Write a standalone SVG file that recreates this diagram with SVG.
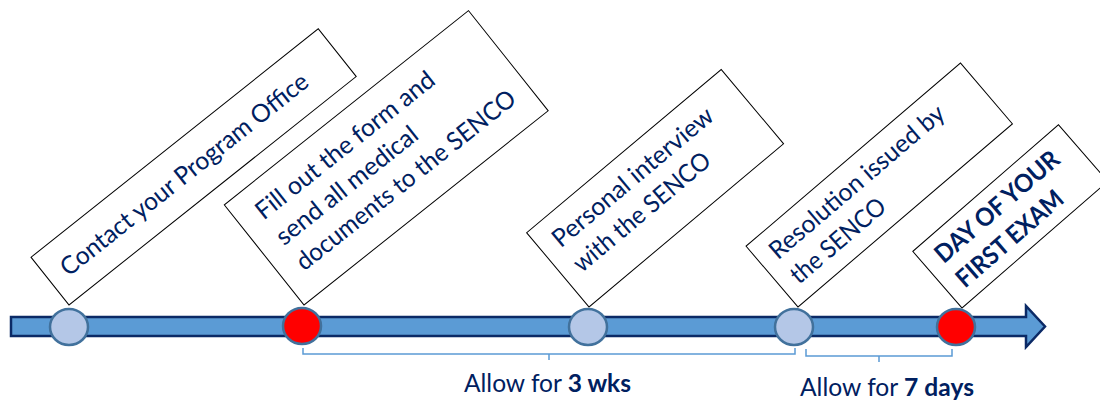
<svg xmlns="http://www.w3.org/2000/svg" width="1100" height="403" viewBox="0 0 1100 403">
<style>
.box{fill:#fff;stroke:#000;stroke-width:1}
.t{font-family:Lato,"Liberation Sans",sans-serif;font-size:25px;fill:#002060}
.b{font-weight:bold}
.dotl{fill:#b4c7e7;stroke:#41719c;stroke-width:2.5}
.dotr{fill:#ff0000;stroke:#41719c;stroke-width:2.5}
.br{fill:none;stroke:#5b9bd5;stroke-width:1.5}
</style>
<rect width="1100" height="403" fill="#fff"/>
<g id="timeline">
<path d="M11,317 H1026 V306 L1045,326.5 L1026,347 V336 H11 Z" fill="#5b9bd5" stroke="#0b2a66" stroke-width="2.5" stroke-linejoin="miter"/>
</g>
<g id="step1">
<g transform="translate(69,305) rotate(-38.5)">
<rect class="box" x="0" y="-61" width="367" height="61"/>
<text class="t" x="17" y="-22" textLength="309" lengthAdjust="spacingAndGlyphs">Contact your Program Office</text>
</g>
<ellipse class="dotl" cx="69" cy="327" rx="19" ry="18"/>
</g>
<g id="step2">
<g transform="translate(304,305) rotate(-38.5)">
<rect class="box" x="0" y="-128" width="312" height="128"/>
<text class="t" x="21" y="-91" textLength="221" lengthAdjust="spacingAndGlyphs">Fill out the form and</text>
<text class="t" x="21" y="-58.5" textLength="174" lengthAdjust="spacingAndGlyphs">send all medical</text>
<text class="t" x="21" y="-26" textLength="273" lengthAdjust="spacingAndGlyphs">documents to the SENCO</text>
</g>
<ellipse class="dotr" cx="302" cy="326" rx="19" ry="18"/>
</g>
<g id="step3">
<g transform="translate(589,307) rotate(-40)">
<rect class="box" x="0" y="-97" width="254" height="97"/>
<text class="t" x="16" y="-63" textLength="202" lengthAdjust="spacingAndGlyphs">Personal interview</text>
<text class="t" x="16" y="-30.5" textLength="171" lengthAdjust="spacingAndGlyphs">with the SENCO</text>
</g>
<ellipse class="dotl" cx="588" cy="327" rx="19" ry="18"/>
</g>
<g id="step4">
<g transform="translate(798,307) rotate(-40.5)">
<rect class="box" x="0" y="-80" width="282" height="80"/>
<text class="t" x="15" y="-48.5" textLength="222" lengthAdjust="spacingAndGlyphs">Resolution issued by</text>
<text class="t" x="15" y="-16" textLength="117" lengthAdjust="spacingAndGlyphs">the SENCO</text>
</g>
<ellipse class="dotl" cx="794" cy="327" rx="19" ry="18"/>
</g>
<g id="step5">
<g transform="translate(962,308) rotate(-41)">
<rect class="box" x="0" y="-75" width="193" height="75"/>
<text class="t b" x="15" y="-45" textLength="156" lengthAdjust="spacingAndGlyphs">DAY OF YOUR</text>
<text class="t b" x="15" y="-12.5" textLength="133" lengthAdjust="spacingAndGlyphs">FIRST EXAM</text>
</g>
<ellipse class="dotr" cx="956" cy="327" rx="19" ry="18"/>
</g>
<g id="connectors">
<path class="br" d="M303,348 V354 H795 V348 M549,354 V360"/>
<path class="br" d="M806,349 V356 H952 V349 M879,356 V362"/>
</g>
<g id="labels">
<text class="t" x="464" y="392" textLength="167" lengthAdjust="spacingAndGlyphs">Allow for <tspan class="b">3 wks</tspan></text>
<text class="t" x="800" y="396" textLength="174" lengthAdjust="spacingAndGlyphs">Allow for <tspan class="b">7 days</tspan></text>
</g>
</svg>
